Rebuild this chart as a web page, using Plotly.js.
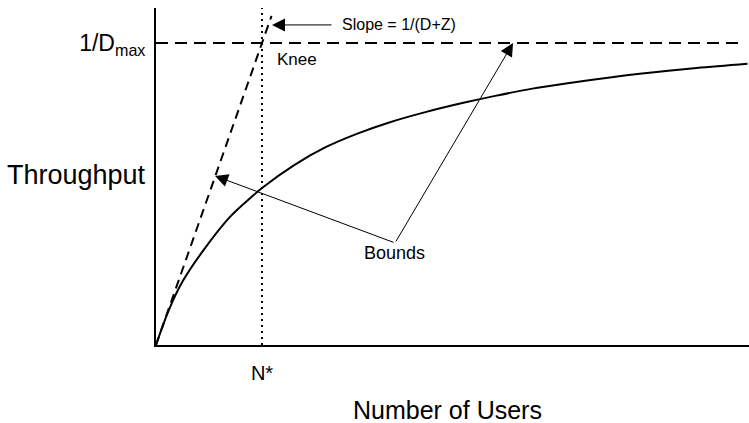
<!DOCTYPE html>
<html>
<head>
<meta charset="utf-8">
<script src="https://cdn.plot.ly/plotly-3.0.1.min.js"></script>
<style>
  html, body { margin: 0; padding: 0; background: #fff; }
  #chart { width: 749px; height: 423px; }
</style>
</head>
<body>
<div id="chart"></div>
<script>
// Throughput as a function of the number of users (closed system)
const users = [0, 0.12, 0.25, 0.45, 0.7, 0.9, 1.0, 1.3, 1.6, 1.9, 2.2, 2.55, 2.9, 3.2, 3.55, 3.9, 4.3, 4.7, 5.1, 5.58];
const throughput = [0, 0.115, 0.21, 0.315, 0.425, 0.49, 0.52, 0.595, 0.655, 0.70, 0.737, 0.772, 0.802, 0.825, 0.849, 0.868, 0.887, 0.903, 0.917, 0.931];

// Asymptotic bounds: light-load slope line and the 1/Dmax ceiling
const slopeUsers = [0, 1.09];
const slopeThroughput = [0, 1.09];
const ceilingUsers = [0, 5.54];
const ceilingThroughput = [1, 1];

// Knee position N* and the axis extent
const kneeUsers = [1, 1];
const kneeThroughput = [0, 1.116];

const xTickVals = [1];
const xTickText = ['N*'];
const yTickVals = [1];
const yTickText = ['1/D<sub>max</sub>'];

const FONT = 'Liberation Sans, Arial, Helvetica, sans-serif';

const traces = [
  {
    x: users, y: throughput, mode: 'lines', type: 'scatter',
    line: { color: '#000', width: 2, shape: 'spline', smoothing: 1 },
    hoverinfo: 'skip'
  },
  {
    x: slopeUsers, y: slopeThroughput, mode: 'lines', type: 'scatter',
    line: { color: '#000', width: 2, dash: '9px,6px' },
    hoverinfo: 'skip'
  },
  {
    x: ceilingUsers, y: ceilingThroughput, mode: 'lines', type: 'scatter',
    line: { color: '#000', width: 2, dash: '12px,7px' },
    hoverinfo: 'skip'
  },
  {
    x: kneeUsers, y: kneeThroughput, mode: 'lines', type: 'scatter',
    line: { color: '#000', width: 2, dash: '2px,4px' },
    hoverinfo: 'skip'
  }
];

const arrowStyle = {
  showarrow: true, arrowhead: 2, arrowsize: 2.6, arrowwidth: 1, arrowcolor: '#000',
  axref: 'x', ayref: 'y', xref: 'x', yref: 'y', text: ''
};

const layout = {
  width: 749, height: 423,
  margin: { l: 156, r: 0, t: 8, b: 78, pad: 0 },
  paper_bgcolor: '#fff', plot_bgcolor: '#fff',
  showlegend: false,
  font: { family: FONT, color: '#000' },
  xaxis: {
    range: [0, 5.594], showgrid: false, zeroline: false,
    showline: true, linecolor: '#000', linewidth: 2,
    tickvals: xTickVals, ticktext: xTickText, ticks: '',
    tickfont: { size: 20, family: FONT, color: '#000' },
    ticklabelstandoff: 9
  },
  yaxis: {
    range: [0, 1.116], showgrid: false, zeroline: false,
    showline: true, linecolor: '#000', linewidth: 2,
    tickvals: yTickVals, ticktext: yTickText, ticks: '',
    tickfont: { size: 23, family: FONT, color: '#000' },
    ticklabelstandoff: 4
  },
  annotations: [
    {
      xref: 'paper', yref: 'paper', x: -0.014, y: 0.505,
      xanchor: 'right', yanchor: 'middle', showarrow: false,
      text: 'Throughput', font: { size: 27, family: FONT, color: '#000' }
    },
    {
      xref: 'paper', yref: 'paper', x: 0.492, y: 0, yshift: -49,
      xanchor: 'center', yanchor: 'top', showarrow: false,
      text: 'Number of Users', font: { size: 25, family: FONT, color: '#000' }
    },
    {
      xref: 'x', yref: 'y', x: 1.12, y: 0.947,
      xanchor: 'left', yanchor: 'middle', showarrow: false,
      text: 'Knee', font: { size: 17, family: FONT, color: '#000' }
    },
    {
      xref: 'x', yref: 'y', x: 1.74, y: 1.06,
      xanchor: 'left', yanchor: 'middle', showarrow: false,
      text: 'Slope = 1/(D+Z)', font: { size: 16, family: FONT, color: '#000' }
    },
    {
      xref: 'x', yref: 'y', x: 2.25, y: 0.305,
      xanchor: 'center', yanchor: 'middle', showarrow: false,
      text: 'Bounds', font: { size: 18, family: FONT, color: '#000' }
    },
    Object.assign({ x: 1.094, y: 1.06, ax: 1.67, ay: 1.06 }, arrowStyle),
    Object.assign({ x: 0.557, y: 0.56, ax: 2.255, ay: 0.338 }, arrowStyle),
    Object.assign({ x: 3.368, y: 1.0, ax: 2.255, ay: 0.338 }, arrowStyle)
  ]
};

Plotly.newPlot('chart', traces, layout, { staticPlot: true, displayModeBar: false });
</script>
</body>
</html>
